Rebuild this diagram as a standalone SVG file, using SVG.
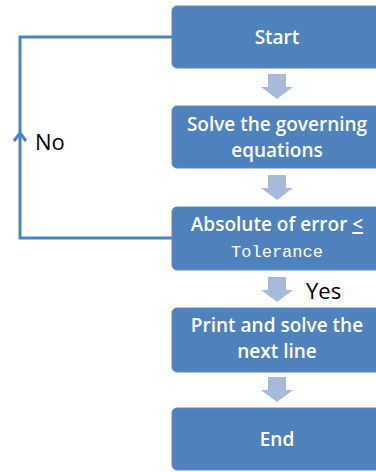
<svg xmlns="http://www.w3.org/2000/svg" width="376" height="472" viewBox="0 0 376 472">
<style>
.box{fill:#4F81BD;stroke:#5B8AC4;stroke-width:1}
.t{font-family:"Open Sans","Liberation Sans",sans-serif;font-weight:600;font-size:19px;fill:#fff;text-anchor:middle}
.m{font-family:"Liberation Mono",monospace;font-size:17px;fill:#fff;text-anchor:middle}
.lab{font-family:"Open Sans","Liberation Sans",sans-serif;font-size:22px;fill:#000}
.blk{fill:#A7BADB}
.ln{fill:none;stroke:#4F81BD;stroke-width:3}
</style>
<defs>
<path id="da" d="M-9,0 H9 V13 H16 L0,25 L-16,13 H-9 Z"/>
</defs>
<g id="connectors">
<use href="#da" class="blk" x="277" y="74"/>
<use href="#da" class="blk" x="277" y="175"/>
<use href="#da" class="blk" x="277" y="277"/>
<use href="#da" class="blk" x="277" y="377"/>
<polyline class="ln" points="172,238 20,238 20,37 172,37"/>
<polyline class="ln" points="14,141 20,133 26,141" stroke-linejoin="miter"/>
<text class="lab" x="35" y="150">No</text>
<text class="lab" x="306" y="299">Yes</text>
</g>
<g id="start"><rect class="box" x="172" y="6" width="212" height="62" rx="5"/><text class="t" x="277" y="44">Start</text></g>
<g id="solve"><rect class="box" x="172" y="106" width="212" height="62" rx="5"/><text class="t" x="277" y="131">Solve the governing</text><text class="t" x="277" y="157">equations</text></g>
<g id="check"><rect class="box" x="172" y="207" width="212" height="63" rx="5"/><text class="t" x="277" y="231">Absolute of error <tspan text-decoration="underline">&lt;</tspan></text><text class="m" x="277" y="257">Tolerance</text></g>
<g id="print"><rect class="box" x="172" y="308" width="212" height="64" rx="5"/><text class="t" x="277" y="332">Print and solve the</text><text class="t" x="277" y="358">next line</text></g>
<g id="end"><rect class="box" x="172" y="408" width="212" height="62" rx="5"/><text class="t" x="277" y="446">End</text></g>
</svg>
